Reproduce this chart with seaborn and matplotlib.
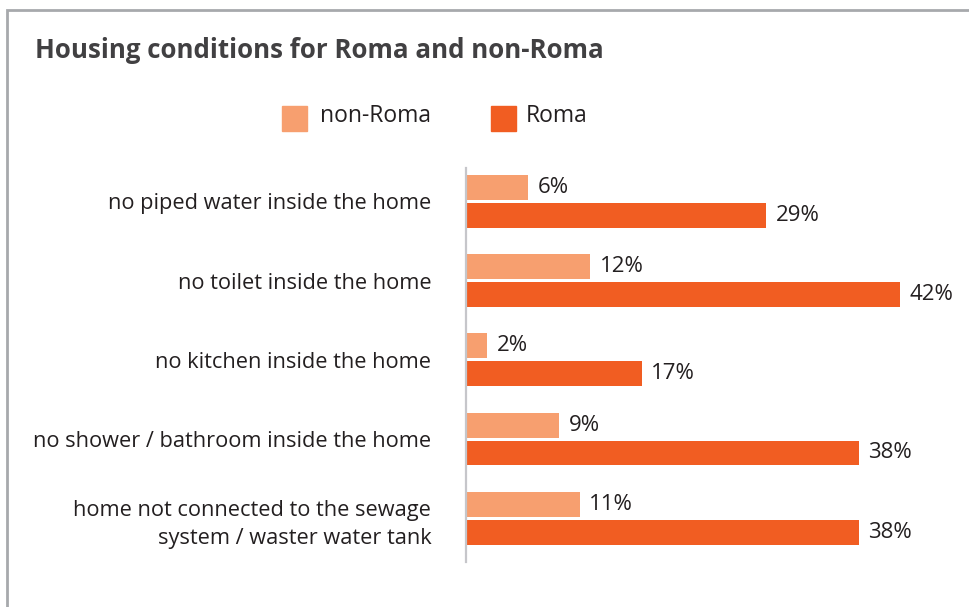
import pandas as pd
import matplotlib.pyplot as plt
import seaborn as sns
from matplotlib.patches import Rectangle

# data
categories = [
    "no piped water inside the home",
    "no toilet inside the home",
    "no kitchen inside the home",
    "no shower / bathroom inside the home",
    "home not connected to the sewage\nsystem / waster water tank",
]
groups = ["non-Roma", "Roma"]
non_roma = [6, 12, 2, 9, 11]
roma = [29, 42, 17, 38, 38]

colors = {"non-Roma": "#F79F6F", "Roma": "#F15D22"}
text_col = "#231F20"

df = pd.DataFrame({
    "category": categories * 2,
    "group": ["non-Roma"] * len(categories) + ["Roma"] * len(categories),
    "value": non_roma + roma,
})

sns.set_style("white")
plt.rcParams["font.family"] = ["Open Sans", "DejaVu Sans"]

fig = plt.figure(figsize=(9.69, 6.07), dpi=100)
ax = fig.add_axes([466 / 969, 1 - 562 / 607, 494 / 969, 394 / 607])

sns.barplot(data=df, y="category", x="value", hue="group", order=categories,
            hue_order=groups, palette=colors, orient="h", width=0.7, gap=0.1,
            saturation=1, linewidth=0, legend=False, ax=ax)

ax.set_xlim(0, 47.8)
ax.set_ylim(4.55, -0.42)
ax.set_xlabel("")
ax.set_ylabel("")
ax.set_xticks([])
ax.tick_params(axis="y", length=0, pad=25, labelsize=15.7, labelcolor=text_col)
for lbl in ax.get_yticklabels():
    lbl.set_linespacing(1.45)
for s in ["top", "right", "bottom"]:
    ax.spines[s].set_visible(False)
ax.spines["left"].set_color("#C6C6CA")
ax.spines["left"].set_linewidth(1.6)

for cont in ax.containers:
    ax.bar_label(cont, fmt="%d%%", padding=7, fontsize=16, color=text_col)

# legend drawn by hand to match the layout
for gx, tx, g in [(282, 320, "non-Roma"), (491, 526, "Roma")]:
    fig.patches.append(Rectangle((gx / 969, 1 - 131 / 607), 25 / 969, 25 / 607,
                                 transform=fig.transFigure, color=colors[g]))
    fig.text(tx / 969, 1 - 116 / 607, g, fontsize=16.5, color=text_col, va="center")

fig.text(35 / 969, 1 - 51 / 607, "Housing conditions for Roma and non-Roma",
         fontsize=18.6, fontweight="bold", color="#414042", va="center")

# frame around the panel (only top and left visible in the crop)
fig.patches.append(Rectangle((7 / 969, -0.1), 1.2, (1 - 10 / 607) + 0.1,
                             transform=fig.transFigure, fill=False,
                             edgecolor="#A7A9AC", linewidth=2))

fig.savefig("out.png", dpi=100)
